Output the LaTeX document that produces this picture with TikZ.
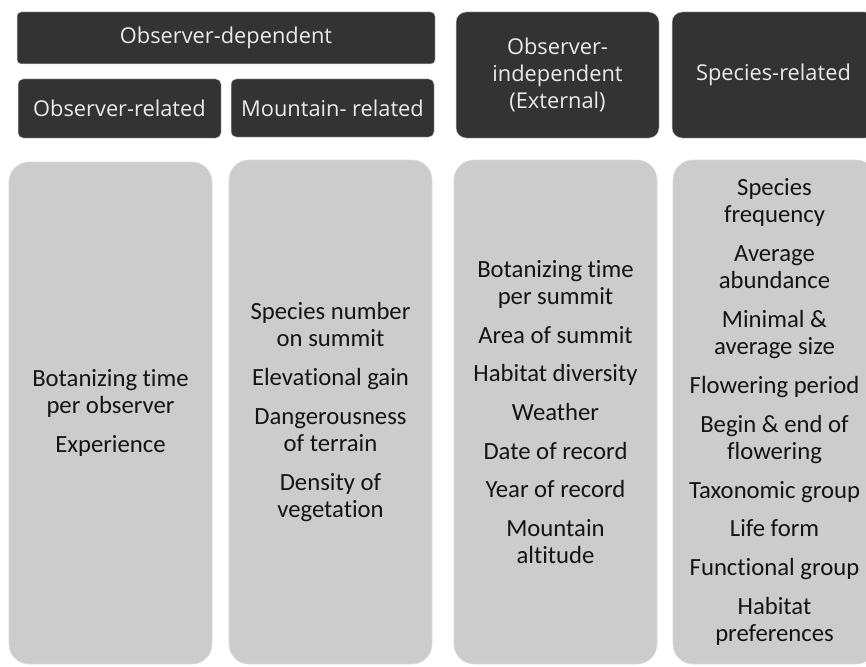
\documentclass[tikz,border=0pt]{standalone}
\usepackage{fontspec}
\setmainfont{Carlito}[Ligatures={NoCommon}]
\newfontfamily\headfont{Open Sans}
\definecolor{darkfill}{HTML}{333333}
\definecolor{lightfill}{HTML}{CCCCCC}
\definecolor{headtext}{HTML}{EBEBEB}
\definecolor{bodytext}{HTML}{141414}
\begin{document}
\begin{tikzpicture}[x=1pt,y=-1pt,
  hbox/.style={fill=darkfill, draw=white!82!black, line width=0.5pt, text=headtext,
    font=\headfont\fontsize{21.8}{27}\selectfont, align=center, inner sep=0pt,
    minimum width=203pt},
  bbox/.style={fill=lightfill, draw=white!86!black, line width=0.6pt, rounded corners=20pt,
    text=bodytext, font=\fontsize{24.7}{27.2}\selectfont, align=center, inner sep=0pt,
    minimum width=203pt, minimum height=503pt}]
\useasboundingbox (0,0) rectangle (866,666);
% headers
\node[hbox, rounded corners=4pt, minimum width=418pt, minimum height=52pt] (od) at (226,38) {Observer-dependent};
\node[hbox, rounded corners=5pt, minimum height=59pt] (or) at (119.5,108.5) {Observer-related};
\node[hbox, rounded corners=5pt, minimum height=58pt] (mr) at (332.5,108) {Mountain- related};
\node[hbox, rounded corners=10pt, minimum height=126pt] (oi) at (557.5,75) {Observer-\\independent\\(External)};
\node[hbox, rounded corners=10pt, minimum height=126pt] (sr) at (773.5,75) {Species-related};
% content boxes
\node[bbox, minimum height=502pt] (b1) at (110.5,413) {Botanizing time\\per observer\\[11.5pt]Experience};
\node[bbox, minimum height=504pt] (b2) at (330.5,412) {Species number\\on summit\\[11.5pt]Elevational gain\\[11.5pt]Dangerousness\\of terrain\\[11.5pt]Density of\\vegetation};
\node[bbox, minimum height=504pt] (b3) at (555.5,412) {Botanizing time\\per summit\\[11.5pt]Area of summit\\[11.5pt]Habitat diversity\\[11.5pt]Weather\\[11.5pt]Date of record\\[11.5pt]Year of record\\[11.5pt]Mountain\\altitude};
\node[bbox, minimum height=504pt] (b4) at (774.5,412) {Species\\frequency\\[11.5pt]Average\\abundance\\[11.5pt]Minimal \&\\average size\\[11.5pt]Flowering period\\[11.5pt]Begin \& end of\\flowering\\[11.5pt]Taxonomic group\\[11.5pt]Life form\\[11.5pt]Functional group\\[11.5pt]Habitat\\preferences};
\end{tikzpicture}
\end{document}
